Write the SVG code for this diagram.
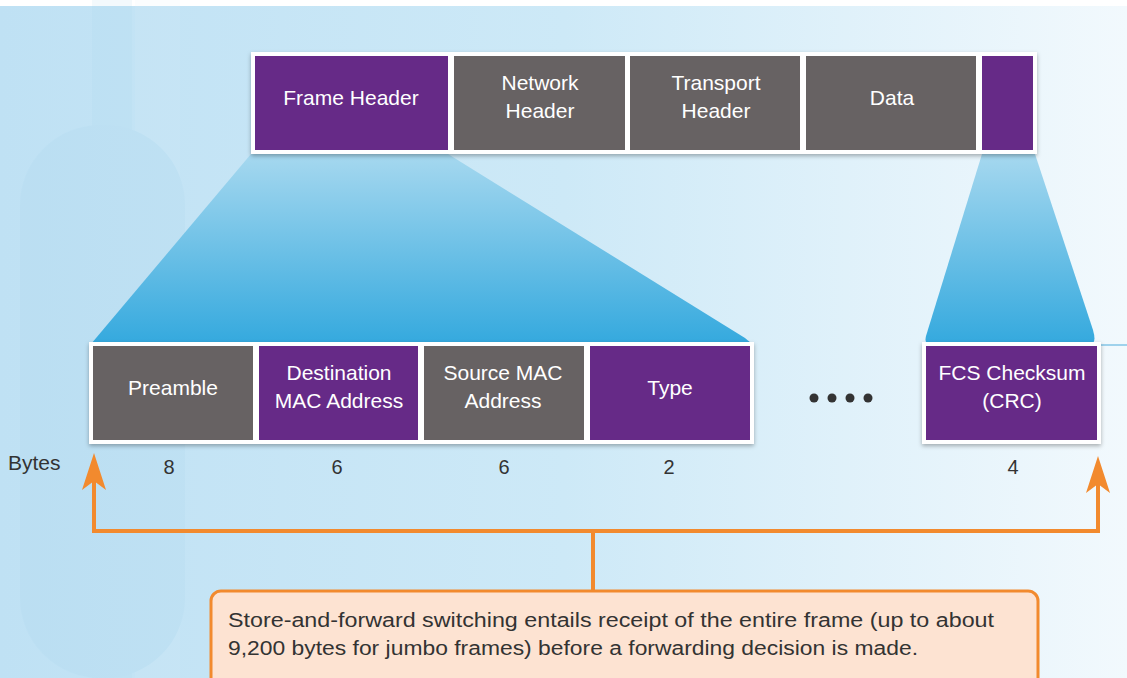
<svg xmlns="http://www.w3.org/2000/svg" width="1127" height="678" viewBox="0 0 1127 678">
<style>
.lbl{font-family:"Liberation Sans",Arial,sans-serif;font-size:21px;fill:#ffffff;text-anchor:middle}
.num{font-family:"Liberation Sans",Arial,sans-serif;font-size:20px;fill:#333333;text-anchor:middle}
.call{font-family:"Liberation Sans",Arial,sans-serif;font-size:20px;fill:#333333}
.purple{fill:#662a87}
.gray{fill:#676263}
.strip{fill:#ffffff;filter:url(#sh)}
.arrow{fill:none;stroke:#f28a2e;stroke-width:4;stroke-linejoin:miter}
</style>
<defs>
<linearGradient id="bg" x1="0" y1="0" x2="1" y2="0">
<stop offset="0" stop-color="#bfe1f4"/>
<stop offset="0.5" stop-color="#cde9f7"/>
<stop offset="1" stop-color="#f2f9fd"/>
</linearGradient>
<linearGradient id="fan" x1="0" y1="0" x2="0" y2="1">
<stop offset="0" stop-color="#a6d8ef"/>
<stop offset="1" stop-color="#34a9de"/>
</linearGradient>
<filter id="sh" x="-5%" y="-10%" width="110%" height="130%">
<feDropShadow dx="0" dy="2" stdDeviation="2" flood-color="#000" flood-opacity="0.3"/>
</filter>
</defs>
<rect x="0" y="0" width="1127" height="678" fill="url(#bg)"/>
<rect x="0" y="0" width="1127" height="6" fill="#ffffff"/>
<g opacity="0.12">
<rect x="92" y="0" width="40" height="678" fill="#a5d3ec"/>
<rect x="135" y="0" width="45" height="678" fill="#e0f2fa"/>
<rect x="20" y="125" width="165" height="553" rx="80" fill="#9fd0ea"/>
</g>
<line x1="1097" y1="345" x2="1127" y2="345" stroke="#9fd2ec" stroke-width="2"/>

<g id="fans">
<path d="M251,154 L448,154 L745,338 Q750,342 752,344 L91,344 Z" fill="url(#fan)"/>
<path d="M982,154 L1035,154 L1093,330 Q1097,344 1090,344 L930,344 Q924,344 926,336 Z" fill="url(#fan)"/>
</g>

<g id="top-strip">
<rect class="strip" x="251" y="52" width="786" height="102"/>
<g id="frame-header"><rect class="purple" x="255" y="56" width="193" height="94"/><text class="lbl" x="351" y="105">Frame Header</text></g>
<g id="network-header"><rect class="gray" x="454" y="56" width="171" height="94"/><text class="lbl" x="540" y="90">Network</text><text class="lbl" x="540" y="118">Header</text></g>
<g id="transport-header"><rect class="gray" x="630" y="56" width="170" height="94"/><text class="lbl" x="716" y="90">Transport</text><text class="lbl" x="716" y="118">Header</text></g>
<g id="data"><rect class="gray" x="806" y="56" width="170" height="94"/><text class="lbl" x="892" y="105">Data</text></g>
<g id="fcs-top"><rect class="purple" x="982" y="56" width="51" height="94"/></g>
</g>

<g id="bottom-strip">
<rect class="strip" x="89" y="342" width="665" height="102"/>
<g id="preamble"><rect class="gray" x="93" y="346" width="160" height="94"/><text class="lbl" x="173" y="395">Preamble</text></g>
<g id="dest-mac"><rect class="purple" x="259" y="346" width="159" height="94"/><text class="lbl" x="339" y="380">Destination</text><text class="lbl" x="339" y="408">MAC Address</text></g>
<g id="src-mac"><rect class="gray" x="424" y="346" width="160" height="94"/><text class="lbl" x="503" y="380">Source MAC</text><text class="lbl" x="503" y="408">Address</text></g>
<g id="type"><rect class="purple" x="590" y="346" width="160" height="94"/><text class="lbl" x="670" y="395">Type</text></g>
</g>
<g id="dots" fill="#333333">
<circle cx="814" cy="398" r="4.5"/><circle cx="832" cy="398" r="4.5"/><circle cx="850" cy="398" r="4.5"/><circle cx="868" cy="398" r="4.5"/>
</g>
<g id="fcs-bottom">
<rect class="strip" x="922" y="342" width="179" height="102"/>
<rect class="purple" x="926" y="346" width="171" height="94"/>
<text class="lbl" x="1012" y="380">FCS Checksum</text><text class="lbl" x="1012" y="408">(CRC)</text>
</g>

<g id="bytes">
<text class="num" x="8" y="470" style="text-anchor:start;font-size:21px">Bytes</text>
<text class="num" x="169" y="474">8</text>
<text class="num" x="337" y="474">6</text>
<text class="num" x="504" y="474">6</text>
<text class="num" x="669" y="474">2</text>
<text class="num" x="1013" y="474">4</text>
</g>

<g id="connectors">
<path class="arrow" d="M94,468 L94,531 L1098,531 L1098,468"/>
<path class="arrow" d="M593,531 L593,591"/>
<polygon points="94,453 82,490 94,481 106,490" fill="#f28a2e"/>
<polygon points="1098,456 1086,493 1098,484 1110,493" fill="#f28a2e"/>
</g>

<g id="callout">
<rect x="211" y="591" width="827" height="100" rx="10" fill="#fde3d2" stroke="#f28a2e" stroke-width="3"/>
<text class="call" x="228" y="627" textLength="766" lengthAdjust="spacingAndGlyphs">Store-and-forward switching entails receipt of the entire frame (up to about</text>
<text class="call" x="228" y="655" textLength="690" lengthAdjust="spacingAndGlyphs">9,200 bytes for jumbo frames) before a forwarding decision is made.</text>
</g>
</svg>
